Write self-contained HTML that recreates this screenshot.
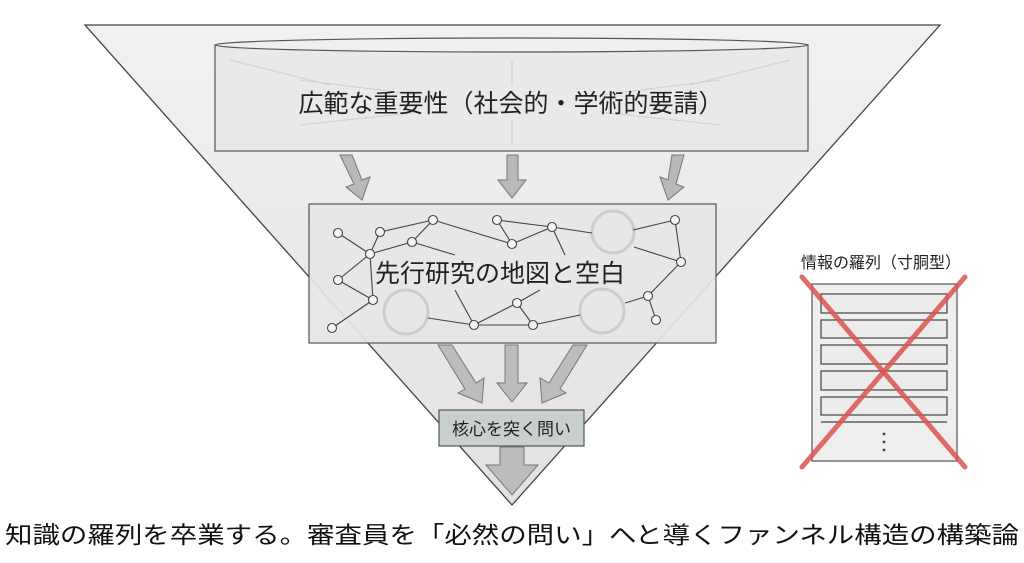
<!DOCTYPE html>
<html><head><meta charset="utf-8"><style>
html,body{margin:0;padding:0;background:#fff;}
body{width:1024px;height:558px;overflow:hidden;font-family:"Liberation Sans","Noto Sans CJK JP",sans-serif;}
</style></head><body>
<svg width="1024" height="558" viewBox="0 0 1024 558" xmlns="http://www.w3.org/2000/svg" font-family="'Liberation Sans','Noto Sans CJK JP',sans-serif">
<defs>
<linearGradient id="tg" x1="0" y1="0" x2="0" y2="1"><stop offset="0" stop-color="#f1f1f1"/><stop offset="1" stop-color="#e2e2e2"/></linearGradient>
</defs>
<polygon points="85,25 940,25 512,505" fill="url(#tg)" stroke="#444" stroke-width="1.3"/>
<!-- cylinder -->
<rect x="215" y="45" width="593" height="106" fill="#e9e9e9" stroke="#555" stroke-width="1.2"/>
<ellipse cx="511.5" cy="45" rx="296.5" ry="7" fill="#efefef" stroke="#555" stroke-width="1.2"/>
<g stroke="#d0d0d0" stroke-width="1">
<line x1="512" y1="60" x2="512" y2="85"/><line x1="512" y1="120" x2="512" y2="145"/>
<line x1="300" y1="80" x2="420" y2="95"/><line x1="720" y1="80" x2="600" y2="95"/>
<line x1="300" y1="125" x2="420" y2="112"/><line x1="720" y1="125" x2="600" y2="112"/>
<line x1="230" y1="60" x2="330" y2="85"/><line x1="790" y1="60" x2="690" y2="85"/>
</g>
<text x="511" y="112" font-size="25" text-anchor="middle" fill="#222">広範な重要性（社会的・学術的要請）</text>
<!-- arrows top -->
<g fill="#b8b8b8" stroke="#777" stroke-width="1">
<polygon points="340,155 352,155 362,180 370,177 362,200 346,187 354,184"/>
<polygon points="507,155 518,155 518,180 526,180 512,198 498,180 507,180"/>
<polygon points="672,155 684,155 676,184 684,187 668,200 660,177 668,180"/>
</g>
<!-- network box -->
<rect x="309" y="204" width="407" height="139" fill="#e6e6e6" fill-opacity="0.92" stroke="#555" stroke-width="1.2"/>
<g fill="none" stroke="#ccc" stroke-width="3">
<circle cx="613" cy="232" r="21"/><circle cx="406" cy="312" r="22"/><circle cx="602" cy="311" r="22"/>
</g>
<g stroke="#444" stroke-width="1.1">
<line x1="338" y1="233" x2="370" y2="254"/><line x1="380" y1="232" x2="370" y2="254"/><line x1="380" y1="232" x2="433" y2="220"/>
<line x1="370" y1="254" x2="412" y2="242"/><line x1="412" y1="242" x2="433" y2="220"/><line x1="370" y1="254" x2="373" y2="300"/>
<line x1="338" y1="280" x2="373" y2="300"/><line x1="338" y1="280" x2="370" y2="254"/><line x1="373" y1="300" x2="332" y2="328"/>
<line x1="433" y1="220" x2="512" y2="244"/><line x1="497" y1="220" x2="512" y2="244"/><line x1="497" y1="220" x2="552" y2="227"/>
<line x1="512" y1="244" x2="552" y2="227"/><line x1="552" y1="227" x2="592" y2="233"/><line x1="633" y1="230" x2="675" y2="220"/>
<line x1="675" y1="220" x2="681" y2="262"/><line x1="634" y1="247" x2="681" y2="262"/><line x1="681" y1="262" x2="648" y2="296"/>
<line x1="648" y1="296" x2="656" y2="320"/><line x1="648" y1="296" x2="625" y2="303"/><line x1="428" y1="318" x2="474" y2="325"/>
<line x1="474" y1="325" x2="533" y2="325"/><line x1="474" y1="325" x2="517" y2="303"/><line x1="517" y1="303" x2="533" y2="325"/>
<line x1="533" y1="325" x2="580" y2="315"/><line x1="517" y1="303" x2="540" y2="290"/><line x1="474" y1="325" x2="455" y2="290"/>
<line x1="412" y1="242" x2="455" y2="255"/><line x1="552" y1="227" x2="565" y2="255"/>
</g>
<g fill="#f4f4f4" stroke="#444" stroke-width="1.1">
<circle cx="338" cy="233" r="4.5"/><circle cx="380" cy="232" r="4.5"/><circle cx="433" cy="220" r="4.5"/><circle cx="412" cy="242" r="4.5"/>
<circle cx="370" cy="254" r="4.5"/><circle cx="338" cy="280" r="4.5"/><circle cx="373" cy="300" r="4.5"/><circle cx="332" cy="328" r="4.5"/>
<circle cx="497" cy="220" r="4.5"/><circle cx="552" cy="227" r="4.5"/><circle cx="512" cy="244" r="4.5"/><circle cx="675" cy="220" r="4.5"/>
<circle cx="681" cy="262" r="4.5"/><circle cx="648" cy="296" r="4.5"/><circle cx="656" cy="320" r="4.5"/><circle cx="474" cy="325" r="4.5"/>
<circle cx="533" cy="325" r="4.5"/><circle cx="517" cy="303" r="4.5"/>
</g>
<text x="500" y="282" font-size="25" text-anchor="middle" fill="#222">先行研究の地図と空白</text>
<!-- arrows mid -->
<g fill="#bcbcbc" stroke="#777" stroke-width="1">
<polygon points="438,345 452,345 476,383 484,378 482,403 458,393 465,389"/>
<polygon points="505,345 518,345 518,383 527,383 512,402 497,383 505,383"/>
<polygon points="573,345 587,345 560,389 566,393 542,403 540,378 549,383"/>
</g>
<rect x="439" y="410" width="145" height="36" fill="#c9cfcf" stroke="#555" stroke-width="1.2"/>
<text x="511.5" y="435" font-size="17" text-anchor="middle" fill="#222">核心を突く問い</text>
<polygon points="500,447 524,447 524,465 538,465 512,495 486,465 500,465" fill="#bcbcbc" stroke="#777" stroke-width="1"/>
<!-- right panel -->
<text x="881" y="268" font-size="16" text-anchor="middle" fill="#222">情報の羅列（寸胴型）</text>
<rect x="812" y="284" width="145" height="177" fill="#eee" stroke="#555" stroke-width="1.2"/>
<g fill="#ececec" stroke="#444" stroke-width="1.2">
<rect x="821" y="294" width="126" height="19"/><rect x="821" y="320" width="126" height="18"/><rect x="821" y="345" width="126" height="19"/>
<rect x="821" y="371" width="126" height="19"/><rect x="821" y="397" width="126" height="18"/>
</g>
<line x1="821" y1="422" x2="947" y2="422" stroke="#444" stroke-width="1.2"/>
<g fill="#444"><circle cx="884" cy="434" r="1.4"/><circle cx="884" cy="442" r="1.4"/><circle cx="884" cy="450" r="1.4"/></g>
<g stroke="#d9534f" stroke-opacity="0.85" stroke-width="5" stroke-linecap="round">
<line x1="802" y1="277" x2="965" y2="467"/><line x1="965" y1="277" x2="802" y2="467"/>
</g>
<text x="512" y="543" font-size="23.5" text-anchor="middle" fill="#111" textLength="1014" lengthAdjust="spacingAndGlyphs">知識の羅列を卒業する。審査員を「必然の問い」へと導くファンネル構造の構築論</text>
</svg>
</body></html>
